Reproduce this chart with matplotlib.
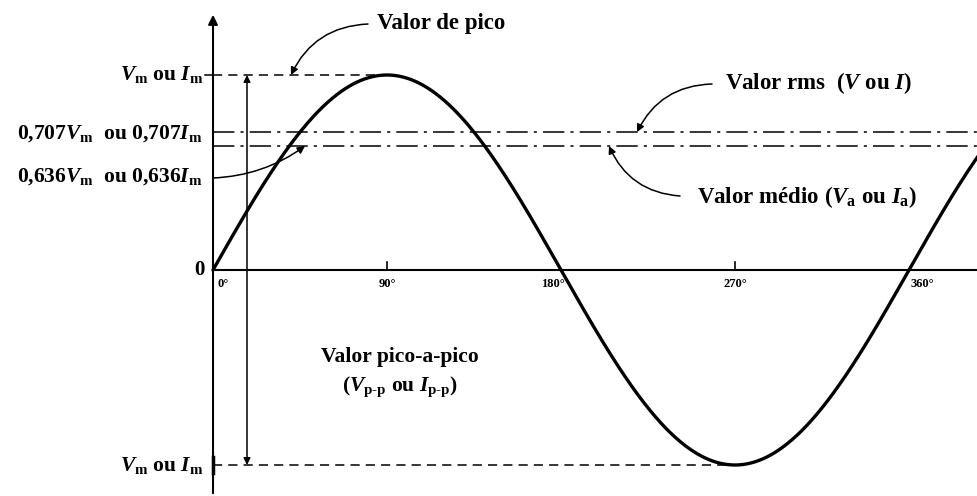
import numpy as np
import matplotlib.pyplot as plt

plt.rcParams['font.family'] = ['Liberation Serif', 'DejaVu Serif']
plt.rcParams['font.weight'] = 'bold'
plt.rcParams['mathtext.fontset'] = 'custom'
plt.rcParams['mathtext.rm'] = 'Liberation Serif:bold'
plt.rcParams['mathtext.it'] = 'Liberation Serif:italic:bold'
plt.rcParams['mathtext.bf'] = 'Liberation Serif:bold'

# chart values (angles in degrees, levels as fraction of the peak)
angle_ticks = [0, 90, 180, 270, 360]
angle_labels = ['0°', '90°', '180°', '270°', '360°']
peak = 1.0
rms = 0.707
mean = 0.636
wave_end = 400  # degrees drawn, wave runs off the right edge

# pixel mapping: 0 deg at x=213 px, 90 deg = 175 px; zero at y=270 px, peak = 195 px
W, H = 977, 496
x0, dx = 213, 174 / 90
y0, dy = 270, 195


def px_x(p):
    return (p - x0) / dx


def px_y(p):
    return (y0 - p) / dy


fig = plt.figure(figsize=(W / 100, H / 100), dpi=100)
ax = fig.add_axes([0, 0, 1, 1])
ax.set_xlim(px_x(0), px_x(W))
ax.set_ylim(px_y(H), px_y(0))
ax.axis('off')

# sine wave
theta = np.linspace(0, wave_end, 800)
ax.plot(theta, peak * np.sin(np.radians(theta)), color='black', lw=2.4,
        solid_capstyle='round')

# axes
ax.annotate('', xy=(0, px_y(12)), xytext=(0, px_y(H)),
            arrowprops=dict(arrowstyle='-|>', color='black', lw=1.5,
                            mutation_scale=14))
ax.plot([0, px_x(W)], [0, 0], color='black', lw=1.5)

# ticks at 90 and 270
for t in [90, 270]:
    ax.plot([t, t], [0, px_y(262)], color='black', lw=1.2)
for t, lab in zip(angle_ticks, angle_labels):
    ha = 'left' if t == 0 else 'center'
    xt = px_x(217) if t == 0 else t
    if t in (180, 360):
        xt = t + 7 if t == 360 else t - 4
    ax.text(xt, px_y(284), lab, fontsize=9, ha=ha, va='center')

# peak lines
ax.plot([0, 90], [peak, peak], color='black', lw=1.1, ls=(0, (6, 4)))
ax.plot([0, 270], [-peak, -peak], color='black', lw=1.1, ls=(0, (6, 4)))
ax.plot([0, px_x(205)], [peak, peak], color='black', lw=1.1)
ax.plot([0, 0], [-peak - 0.04, -peak + 0.04], color='black', lw=2.5)

# rms and mean lines
ax.plot([0, px_x(W)], [rms, rms], color='black', lw=1.1, ls=(0, (14, 4, 2, 4)))
ax.plot([0, px_x(W)], [mean, mean], color='black', lw=1.1, ls=(0, (14, 4, 2, 4)))

# peak to peak double arrow
xpp = px_x(247)
ax.annotate('', xy=(xpp, peak), xytext=(xpp, 0.5),
            arrowprops=dict(arrowstyle='-|>', color='black', lw=1.1,
                            mutation_scale=10, shrinkA=0, shrinkB=0))
ax.annotate('', xy=(xpp, -peak), xytext=(xpp, 0.5),
            arrowprops=dict(arrowstyle='-|>', color='black', lw=1.1,
                            mutation_scale=10, shrinkA=0, shrinkB=0))

# y labels
lab_x = px_x(203)
lab_fs = 15.5
ax.text(lab_x, peak, r'$V_\mathrm{m}$ ou $I_\mathrm{m}$', fontsize=lab_fs,
        ha='right', va='center')
ax.text(lab_x, px_y(134), r'0,707$V_\mathrm{m}$  ou 0,707$I_\mathrm{m}$',
        fontsize=lab_fs, ha='right', va='center')
ax.text(lab_x, px_y(177), r'0,636$V_\mathrm{m}$  ou 0,636$I_\mathrm{m}$',
        fontsize=lab_fs, ha='right', va='center')
ax.text(px_x(205), 0, '0', fontsize=15, ha='right', va='center')
ax.text(lab_x, -peak, r'$V_\mathrm{m}$ ou $I_\mathrm{m}$', fontsize=lab_fs,
        ha='right', va='center')

arrow_kw = dict(arrowstyle='-|>', color='black', lw=1.1, mutation_scale=11,
                shrinkA=0, shrinkB=0)
ann_fs = 16.5

# 0,636 label arrow
ax.annotate('', xy=(px_x(305), mean), xytext=(0, px_y(178)),
            arrowprops=dict(connectionstyle='arc3,rad=0.15', **arrow_kw))

# Valor de pico
ax.text(px_x(377), px_y(24), 'Valor de pico', fontsize=ann_fs, ha='left', va='center')
ax.annotate('', xy=(px_x(291), peak), xytext=(px_x(368), px_y(24)),
            arrowprops=dict(connectionstyle='arc3,rad=0.3', **arrow_kw))

# Valor rms
ax.text(px_x(725), px_y(83), r'Valor rms  ($V$ ou $I$)', fontsize=ann_fs,
        ha='left', va='center')
ax.annotate('', xy=(px_x(637), rms), xytext=(px_x(712), px_y(84)),
            arrowprops=dict(connectionstyle='arc3,rad=0.3', **arrow_kw))

# Valor medio
ax.text(px_x(697), px_y(197), r'Valor médio ($V_\mathrm{a}$ ou $I_\mathrm{a}$)',
        fontsize=ann_fs, ha='left', va='center')
ax.annotate('', xy=(px_x(609), mean), xytext=(px_x(680), px_y(196)),
            arrowprops=dict(connectionstyle='arc3,rad=-0.3', **arrow_kw))

# Valor pico-a-pico
ax.text(px_x(400), px_y(357), 'Valor pico-a-pico', fontsize=15.5,
        ha='center', va='center')
ax.text(px_x(400), px_y(387), r'($V_\mathrm{p\text{-}p}$ ou $I_\mathrm{p\text{-}p}$)',
        fontsize=15.5, ha='center', va='center')

fig.savefig('out.png', dpi=100, facecolor='white')
